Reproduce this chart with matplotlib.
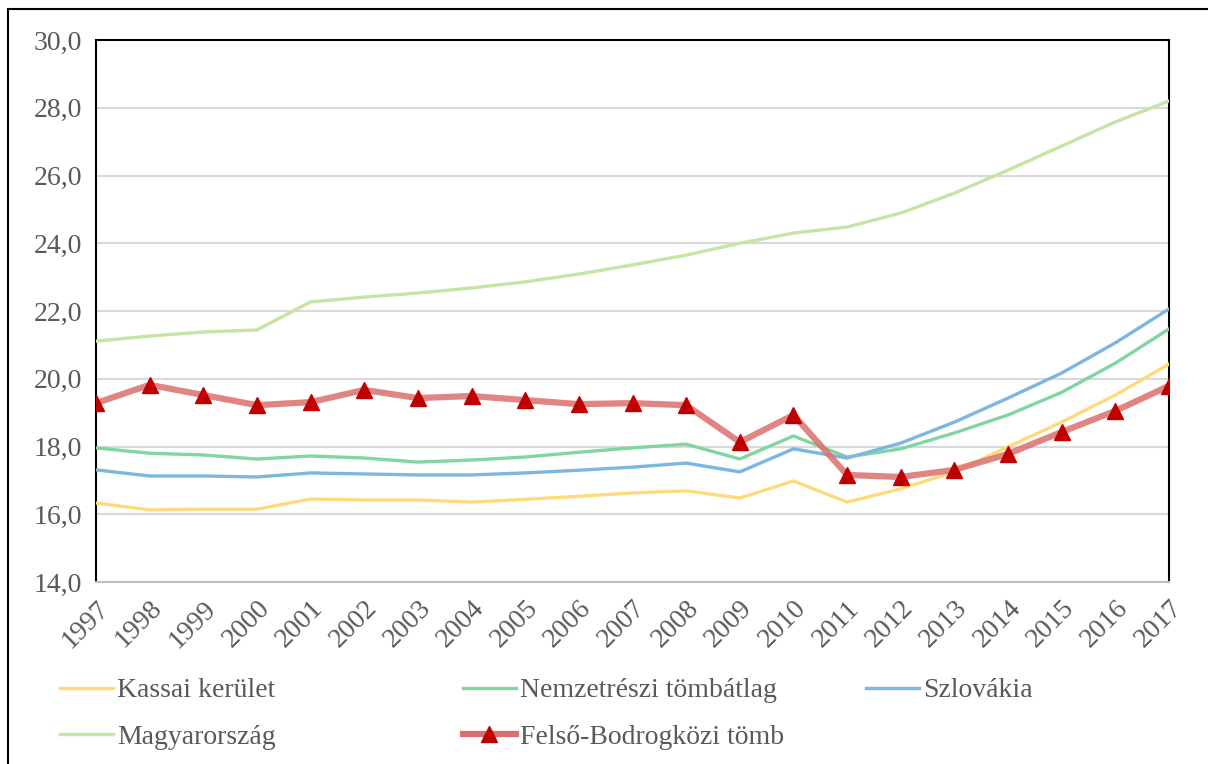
import matplotlib.pyplot as plt
from matplotlib.lines import Line2D
from matplotlib.patches import Rectangle
import numpy as np

years = list(range(1997, 2018))

kassai = [16.33, 16.13, 16.15, 16.15, 16.45, 16.42, 16.42, 16.36, 16.44, 16.53, 16.63,
          16.69, 16.48, 16.98, 16.36, 16.75, 17.25, 17.99, 18.72, 19.52, 20.43]
nemzetreszi = [17.96, 17.80, 17.75, 17.63, 17.72, 17.66, 17.54, 17.60, 17.69, 17.83, 17.96,
               18.07, 17.63, 18.31, 17.69, 17.93, 18.40, 18.93, 19.60, 20.46, 21.47]
szlovakia = [17.31, 17.13, 17.13, 17.10, 17.22, 17.19, 17.16, 17.16, 17.22, 17.30, 17.39,
             17.51, 17.25, 17.93, 17.66, 18.10, 18.72, 19.43, 20.17, 21.06, 22.06]
magyarorszag = [21.11, 21.26, 21.38, 21.44, 22.27, 22.41, 22.53, 22.68, 22.86, 23.09, 23.36,
                23.65, 24.00, 24.30, 24.48, 24.89, 25.48, 26.16, 26.87, 27.58, 28.20]
bodrogkoz = [19.28, 19.82, 19.52, 19.22, 19.31, 19.67, 19.43, 19.49, 19.37, 19.25, 19.28,
             19.22, 18.13, 18.93, 17.16, 17.10, 17.31, 17.78, 18.43, 19.05, 19.79]

c_kassai = '#ffda7c'
c_nemzet = '#7fd6a2'
c_szlov = '#7db6df'
c_magyar = '#c6e4a4'
c_bodrog = '#dc6e6e'
c_marker = '#c00000'
txt = '#595959'

plt.rcParams['font.family'] = 'serif'
plt.rcParams['font.serif'] = ['Liberation Serif', 'DejaVu Serif']

fig = plt.figure(figsize=(12.08, 7.64), dpi=100)
ax = fig.add_axes([96/1208, 1 - 582/764, (1169 - 96)/1208, (582 - 40)/764])

lw = 2.4
ax.plot(years, kassai, color=c_kassai, lw=lw, zorder=3)
ax.plot(years, nemzetreszi, color=c_nemzet, lw=lw, zorder=3)
ax.plot(years, szlovakia, color=c_szlov, lw=lw, zorder=3)
ax.plot(years, magyarorszag, color=c_magyar, lw=lw, zorder=3)
ax.plot(years, bodrogkoz, color=c_bodrog, lw=4.5, alpha=0.85, zorder=4)
ax.plot(years, bodrogkoz, linestyle='none', marker='^', markersize=12,
        color=c_marker, zorder=5)

ax.set_xlim(1997, 2017)
ax.set_ylim(14, 30)
ax.set_yticks(np.arange(14, 30.1, 2))
ax.set_yticklabels([f'{v:.1f}'.replace('.', ',') for v in np.arange(14, 30.1, 2)])
ax.set_xticks(years)
ax.set_xticklabels([str(y) for y in years], rotation=45, ha='right',
                   rotation_mode='anchor')
ax.tick_params(axis='both', length=0, labelsize=20, labelcolor=txt)
ax.tick_params(axis='x', pad=10)
ax.tick_params(axis='y', pad=10)
ax.grid(axis='y', color='#d9d9d9', lw=1.5, zorder=1)
for s in ['left', 'top', 'right']:
    ax.spines[s].set_color('black')
    ax.spines[s].set_linewidth(1.5)
ax.spines['bottom'].set_color('#bfbfbf')
ax.spines['bottom'].set_linewidth(1.5)

# legend in three columns
def handle(color, marker=None, width=lw):
    if marker:
        return Line2D([], [], color=color, lw=width, marker=marker,
                      markersize=12, markerfacecolor=c_marker, markeredgecolor=c_marker)
    return Line2D([], [], color=color, lw=width)

cols = [
    (60, [(handle(c_kassai), 'Kassai kerület'), (handle(c_magyar), 'Magyarország')]),
    (463, [(handle(c_nemzet), 'Nemzetrészi tömbátlag'),
           (handle(c_bodrog, '^', 4.5), 'Felső-Bodrogközi tömb')]),
    (866, [(handle(c_szlov), 'Szlovákia')]),
]
for x0, items in cols:
    leg = fig.legend([h for h, _ in items], [l for _, l in items],
                     loc='upper left', bbox_to_anchor=(x0/1208, 1 - 678/764),
                     frameon=False, fontsize=20, handlelength=1.9,
                     handletextpad=0.15, labelspacing=0.75, borderpad=0,
                     borderaxespad=0, labelcolor=txt)

# outer chart border (cut off at right/bottom)
fig.patches.append(Rectangle((8/1208, -0.1), 1.2, 1.1 - 9/764, transform=fig.transFigure,
                             fill=False, edgecolor='black', lw=1.5))

fig.savefig('out.png', dpi=100)
